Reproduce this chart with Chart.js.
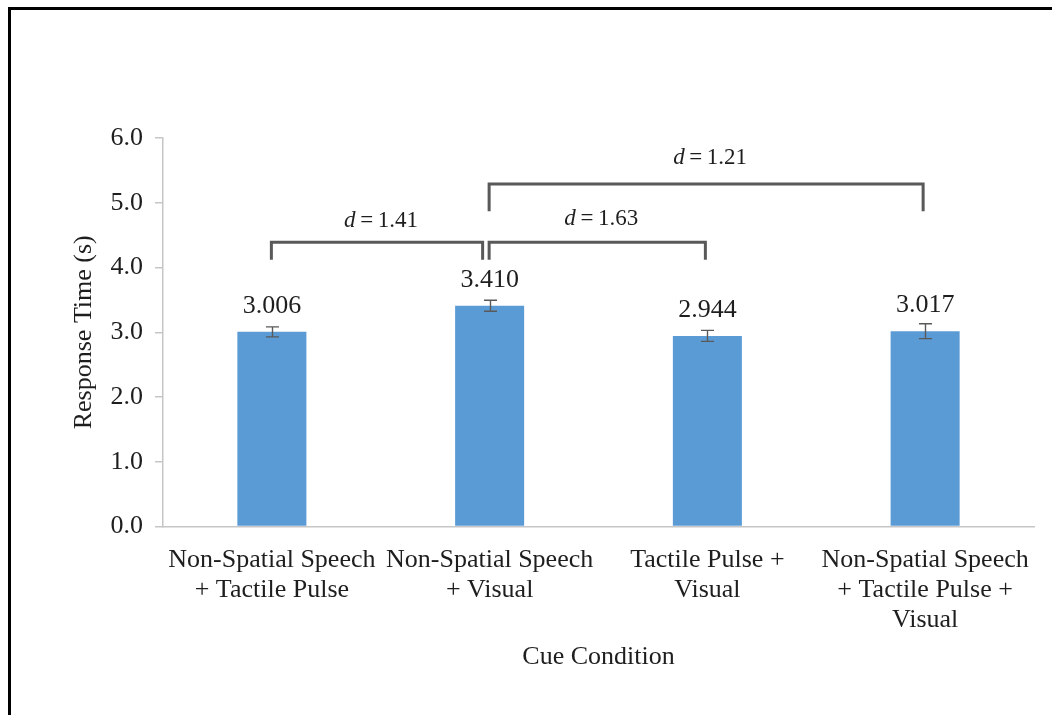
<!DOCTYPE html>
<html>
<head>
<meta charset="utf-8">
<script src="https://cdn.jsdelivr.net/npm/chart.js@4.4.1/dist/chart.umd.min.js"></script>
<style>
  html, body { margin: 0; padding: 0; background: #ffffff; }
  #wrap { position: relative; width: 1052px; height: 715px; }
</style>
</head>
<body>
<div id="wrap"><canvas id="c" width="1052" height="715"></canvas></div>
<script>
// Mean response time per cue condition, with standard errors
const categories = [
  ['Non-Spatial Speech', '+ Tactile Pulse'],
  ['Non-Spatial Speech', '+ Visual'],
  ['Tactile Pulse +', 'Visual'],
  ['Non-Spatial Speech', '+ Tactile Pulse +', 'Visual']
];
const responseTimes = [3.006, 3.410, 2.944, 3.017];
const standardErrors = [0.077, 0.085, 0.085, 0.115];
const valueLabels = ['3.006', '3.410', '2.944', '3.017'];
const yTicks = [0, 1, 2, 3, 4, 5, 6];

// Pairwise comparisons (category indices) and their effect sizes
const compareFrom = [0, 1, 1];
const compareTo = [1, 2, 3];
const effectSizes = ['1.41', '1.63', '1.21'];
const bracketTop = [4.39, 4.39, 5.29];
const bracketFoot = [4.12, 4.12, 4.87];
const bracketLabelLevel = [4.62, 4.66, 5.60];

const SERIF = "'Liberation Serif', 'Times New Roman', serif";
const TEXT = '#1e1e1e';
const AXIS = '#c6c6c6';
const MARK = '#595959';

// White page with a heavy frame along the top and left edges
const framePlugin = {
  id: 'frame',
  beforeDraw(chart) {
    const ctx = chart.ctx;
    ctx.save();
    ctx.fillStyle = '#ffffff';
    ctx.fillRect(0, 0, chart.width, chart.height);
    ctx.strokeStyle = '#000000';
    ctx.lineWidth = 3;
    ctx.strokeRect(9.5, 8.5, chart.width + 40, chart.height + 40);
    ctx.restore();
  }
};

// Error bars and value labels on top of each bar
const barExtras = {
  id: 'barExtras',
  afterDatasetsDraw(chart) {
    const ctx = chart.ctx;
    const y = chart.scales.y;
    const bars = chart.getDatasetMeta(0).data;
    ctx.save();
    ctx.strokeStyle = MARK;
    ctx.lineWidth = 1.4;
    bars.forEach((bar, i) => {
      const v = responseTimes[i], e = standardErrors[i];
      const yHi = y.getPixelForValue(v + e);
      const yLo = y.getPixelForValue(v - e);
      const x = Math.round(bar.x) + 0.5;
      ctx.beginPath();
      ctx.moveTo(x, yHi); ctx.lineTo(x, yLo);
      ctx.moveTo(x - 6.5, yHi); ctx.lineTo(x + 6.5, yHi);
      ctx.moveTo(x - 6.5, yLo); ctx.lineTo(x + 6.5, yLo);
      ctx.stroke();
    });
    ctx.fillStyle = TEXT;
    ctx.font = '26px ' + SERIF;
    ctx.textAlign = 'center';
    ctx.textBaseline = 'alphabetic';
    bars.forEach((bar, i) => {
      ctx.fillText(valueLabels[i], bar.x, bar.y - 19);
    });
    ctx.restore();
  }
};

// Significance brackets with Cohen's d labels
const brackets = {
  id: 'brackets',
  afterDraw(chart) {
    const ctx = chart.ctx;
    const xs = chart.scales.x, ys = chart.scales.y;
    ctx.save();
    ctx.strokeStyle = MARK;
    ctx.lineWidth = 3;
    ctx.lineJoin = 'miter';
    compareFrom.forEach((from, k) => {
      const to = compareTo[k];
      let x1 = xs.getPixelForValue(from) - 0.5;
      let x2 = xs.getPixelForValue(to) - 2;
      // leave a gap where another bracket starts at this bracket's end
      if (compareFrom.some((f, j) => j !== k && f === to)) x2 -= 5;
      const yt = ys.getPixelForValue(bracketTop[k]);
      const yf = ys.getPixelForValue(bracketFoot[k]);
      ctx.beginPath();
      ctx.moveTo(x1, yf);
      ctx.lineTo(x1, yt);
      ctx.lineTo(x2, yt);
      ctx.lineTo(x2, yf);
      ctx.stroke();

      // label: italic d, then " = value"
      const italic = 'italic 23px ' + SERIF;
      const roman = '23px ' + SERIF;
      const rest = '\u2009=\u2009' + effectSizes[k];
      ctx.font = italic;
      const wd = ctx.measureText('d').width;
      ctx.font = roman;
      const wr = ctx.measureText(rest).width;
      const cx = (x1 + x2) / 2 + 4;
      const left = cx - (wd + wr) / 2;
      const base = ys.getPixelForValue(bracketLabelLevel[k]);
      ctx.fillStyle = TEXT;
      ctx.textAlign = 'left';
      ctx.textBaseline = 'alphabetic';
      ctx.font = italic;
      ctx.fillText('d', left, base);
      ctx.font = roman;
      ctx.fillText(rest, left + wd, base);
    });
    ctx.restore();
  }
};

Chart.defaults.font.family = SERIF;
Chart.defaults.color = TEXT;

new Chart(document.getElementById('c'), {
  type: 'bar',
  data: {
    labels: categories,
    datasets: [{
      data: responseTimes,
      backgroundColor: '#5b9bd5',
      borderWidth: 0,
      barPercentage: 0.317,
      categoryPercentage: 1.0
    }]
  },
  options: {
    responsive: false,
    animation: false,
    layout: { padding: { top: 138, right: 18, bottom: 0, left: 0 } },
    plugins: { legend: { display: false }, tooltip: { enabled: false } },
    scales: {
      x: {
        grid: { display: false },
        border: { display: true, color: AXIS, width: 1.5 },
        ticks: {
          color: TEXT,
          font: { size: 26, lineHeight: 1.15 },
          padding: 11,
          maxRotation: 0,
          autoSkip: false
        },
        title: {
          display: true,
          text: 'Cue Condition',
          color: TEXT,
          font: { size: 26 },
          padding: { top: 0, bottom: 42 }
        },
        afterFit(scale) { scale.height = 188.5; }
      },
      y: {
        min: 0,
        max: 6,
        afterBuildTicks(axis) { axis.ticks = yTicks.map(v => ({ value: v })); },
        grid: { drawOnChartArea: false, tickLength: 8, color: AXIS, lineWidth: 1.5 },
        border: { display: true, color: AXIS, width: 1.5 },
        ticks: {
          color: TEXT,
          font: { size: 26 },
          padding: 12,
          callback: v => Number(v).toFixed(1)
        },
        title: {
          display: true,
          text: 'Response Time (s)',
          color: TEXT,
          font: { size: 26 },
          padding: { top: 69, bottom: 0 }
        },
        afterFit(scale) { scale.width = 163; }
      }
    }
  },
  plugins: [framePlugin, barExtras, brackets]
});
</script>
</body>
</html>
